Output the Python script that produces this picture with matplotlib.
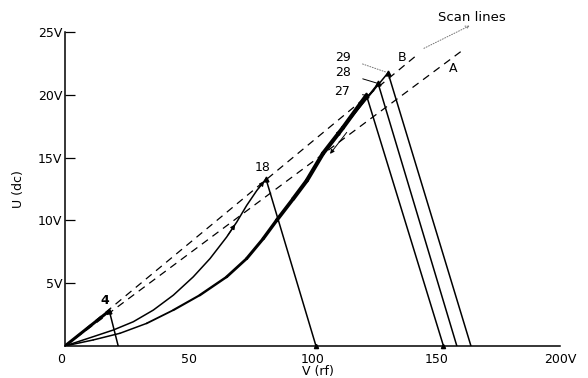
import matplotlib
matplotlib.use("Agg")
import matplotlib.pyplot as plt
from matplotlib.collections import LineCollection
import numpy as np

# --- dados ---
# massas e vertices dos triangulos de estabilidade (V rf, U dc)
masses = ["4", "18", "27", "28", "29"]
apex_v = [17.9, 81.2, 121.8, 126.5, 130.5]
apex_u = [2.8, 13.3, 19.95, 20.9, 21.75]
base_v = [21.5, 101.4, 152.9, 158.3, 164.0]

# borda esquerda (curva) da massa 18
edge18_v = [0, 11.4, 19.5, 27.6, 35.7, 43.8, 51.8, 58.6, 65.3, 69.4, 73.4, 77.5, 81.2]
edge18_u = [0, 0.74, 1.27, 1.93, 2.86, 4.05, 5.50, 6.96, 8.67, 9.87, 11.19, 12.38, 13.3]

# borda esquerda (curva grossa) das massas 27/28/29
edge27_v = [0, 11.4, 22.2, 33.0, 43.8, 54.5, 65.3, 73.4, 80.1, 85.5, 92.2, 97.7, 104.2, 112.3, 121.8]
edge27_u = [0, 0.48, 1.01, 1.80, 2.86, 4.05, 5.50, 6.96, 8.55, 10.0, 11.72, 13.17, 15.32, 17.38, 19.95]

# linhas de varredura (saem da origem)
scan_names = ["B", "A"]
scan_v = [143.0, 160.8]
scan_u = [23.3, 23.57]

x_ticks = [0, 50, 100, 150, 200]
x_labels = ["0", "50", "100", "150", "200V"]
y_ticks = [5, 10, 15, 20, 25]
y_labels = ["5V", "10V", "15V", "20V", "25V"]

plt.rcParams["font.family"] = "DejaVu Sans"
plt.rcParams["font.size"] = 9

fig = plt.figure(figsize=(5.88, 3.78), dpi=100)
ax = fig.add_axes([0.1105, 0.0847, 0.842, 0.8307])
ax.set_xlim(0, 200)
ax.set_ylim(0, 25)

k = "black"

# linhas de varredura tracejadas
for v, u in zip(scan_v, scan_u):
    ax.plot([0, v], [0, u], color=k, lw=0.9, ls=(0, (6, 4.5)), clip_on=False)

# massa 4
ax.plot([0, apex_v[0]], [0, apex_u[0]], color=k, lw=2.2, solid_capstyle="butt")
ax.plot([apex_v[0], base_v[0]], [apex_u[0], 0], color=k, lw=1.1)

# massa 18
ax.plot(edge18_v, edge18_u, color=k, lw=1.1)
ax.plot([apex_v[1], base_v[1]], [apex_u[1], 0], color=k, lw=1.1)

# massas 27, 28, 29: curva comum, mais grossa para cima
pts = np.column_stack([edge27_v, edge27_u])
segs = np.stack([pts[:-1], pts[1:]], axis=1)
widths = np.clip(np.linspace(0.6, 3.6, len(segs)), 1.1, 3.0)
ax.add_collection(LineCollection(segs, colors=k, linewidths=widths, capstyle="round"))
for i in (3, 4):
    ax.plot(edge27_v[-3:-1] + [apex_v[i]], edge27_u[-3:-1] + [apex_u[i]], color=k, lw=1.1)
for i in (2, 3, 4):
    ax.plot([apex_v[i], base_v[i]], [apex_u[i], 0], color=k, lw=1.1)

# vertices
ax.plot(apex_v, apex_u, "^", color=k, ms=3.5, clip_on=False)
ax.plot([base_v[1], base_v[2]], [0, 0], "^", color=k, ms=3, clip_on=False)

# setinhas ao longo das curvas
arrow = dict(arrowstyle="-|>", color=k, lw=0.8, mutation_scale=7)
ax.annotate("", xy=(edge18_v[9], edge18_u[9]), xytext=(edge18_v[8], edge18_u[8]), arrowprops=arrow)
ax.annotate("", xy=(edge18_v[12], edge18_u[12]), xytext=(edge18_v[11], edge18_u[11]), arrowprops=arrow)
ax.annotate("", xy=(edge27_v[13], edge27_u[13]), xytext=(edge27_v[12], edge27_u[12]), arrowprops=arrow)
ax.annotate("", xy=(edge27_v[12] + 2.2, edge27_u[12] - 0.2), xytext=(edge27_v[13] + 2.2, edge27_u[13] - 0.2),
            arrowprops=dict(arrowstyle="-|>", color=k, lw=0.7, mutation_scale=6))

# rotulos das massas
ax.text(16.2, 3.65, masses[0], ha="center", va="center", fontweight="bold")
ax.text(80.0, 14.2, masses[1], ha="center", va="center")
label_pos = [(112.0, 20.3), (112.2, 21.75), (112.2, 23.0)]
for i, (tx, ty) in zip((2, 3, 4), label_pos):
    ax.annotate(masses[i], xy=(apex_v[i], apex_u[i]), xytext=(tx, ty), ha="center", va="center",
                arrowprops=dict(arrowstyle="-", color=k if i < 4 else "0.45", lw=0.7,
                                shrinkA=7, shrinkB=1, ls="-" if i < 4 else ":"))

ax.text(136.2, 23.0, scan_names[0], ha="center", va="center")
ax.text(156.8, 22.1, scan_names[1], ha="center", va="center")
ax.text(164.5, 26.15, "Scan lines", ha="center", va="center", fontsize=9.5, clip_on=False)
ax.annotate("", xy=(164.5, 25.6), xytext=(scan_v[0] + 1, scan_u[0] + 0.3),
            arrowprops=dict(arrowstyle="->", color="0.45", lw=0.7, ls=":", mutation_scale=6),
            annotation_clip=False)

# eixos
for s in ("top", "right"):
    ax.spines[s].set_visible(False)
ax.spines["left"].set_linewidth(1.1)
ax.spines["bottom"].set_linewidth(1.1)

ax.set_yticks(y_ticks)
ax.set_yticklabels(y_labels)
ax.tick_params(axis="y", direction="in", length=7, width=0.9, pad=2)

ax.set_xticks(x_ticks)
ax.set_xticklabels(x_labels)
ax.tick_params(axis="x", which="major", length=0, pad=5)
ax.set_xticks([200], minor=True)
ax.tick_params(axis="x", which="minor", direction="in", length=5, width=0.9)
ax.get_xticklabels()[0].set_ha("right")

ax.set_ylabel("U (dc)")
ax.yaxis.set_label_coords(-0.08, 0.5)
ax.set_xlabel("V (rf)")
ax.xaxis.set_label_coords(0.51, -0.08)
ax.xaxis.label.set_va("center")

plt.savefig("out.png", dpi=100)
plt.close()
